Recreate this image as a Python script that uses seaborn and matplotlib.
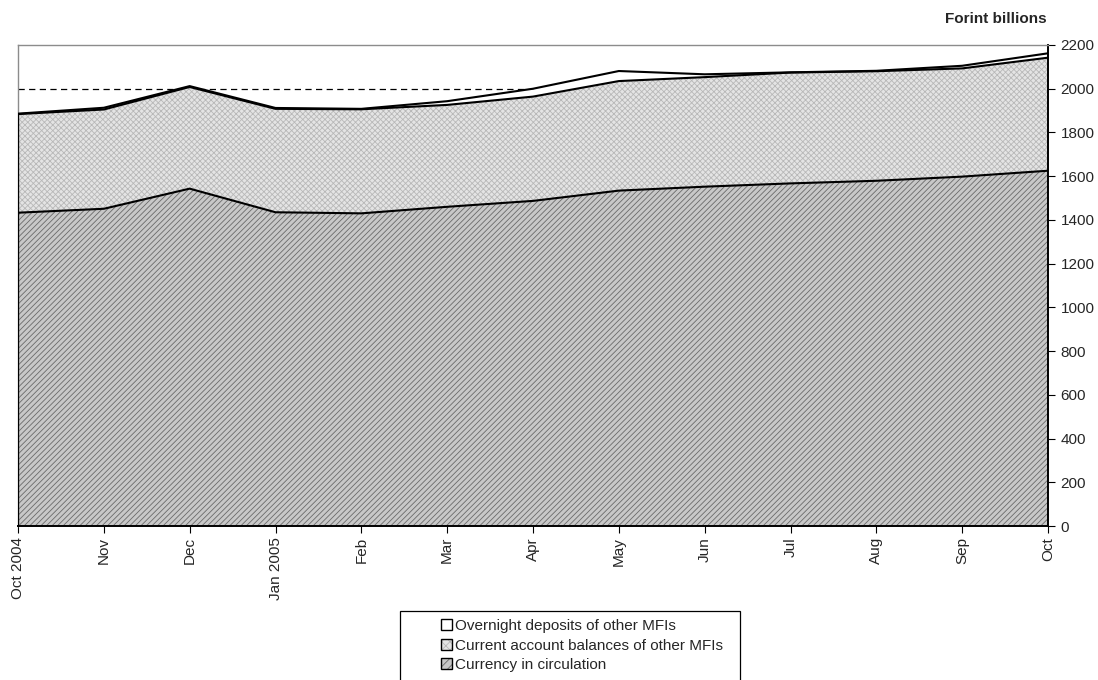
import numpy as np
import pandas as pd
import matplotlib
matplotlib.use("Agg")
import matplotlib.pyplot as plt
from matplotlib.patches import Patch, Rectangle
import seaborn as sns

# ---------------- data (Forint billions) ----------------
months = ["Oct 2004", "Nov", "Dec", "Jan 2005", "Feb", "Mar", "Apr",
          "May", "Jun", "Jul", "Aug", "Sep", "Oct"]
currency = [1433, 1451, 1543, 1435, 1430, 1460, 1487, 1534, 1552, 1567, 1579, 1598, 1625]
current_account = [451, 454, 465, 473, 476, 466, 477, 501, 501, 507, 501, 495, 517]
overnight = [2, 8, 4, 4, 2, 17, 36, 46, 13, 1, 2, 12, 20]
reference_level = 2000
y_ticks = list(range(0, 2201, 200))
labels = ["Overnight deposits of other MFIs",
          "Current account balances of other MFIs",
          "Currency in circulation"]

# ---------------- style ----------------
sns.set_style("white")
plt.rcParams["font.family"] = ["Liberation Sans", "DejaVu Sans"]
plt.rcParams["hatch.linewidth"] = 0.6
FS = 11

x = np.arange(len(months))
c = np.array(currency, dtype=float)
mid = c + np.array(current_account, dtype=float)
top = mid + np.array(overnight, dtype=float)

df = pd.DataFrame({"x": np.concatenate([x, x, x]),
                   "y": np.concatenate([c, mid, top]),
                   "series": ["cur"] * len(x) + ["mid"] * len(x) + ["top"] * len(x)})

fig = plt.figure(figsize=(10.98, 6.8), dpi=100)
ax = fig.add_axes([18 / 1098, 1 - 526 / 680, (1048 - 18) / 1098, (526 - 45) / 680])

# dashed reference line (behind the areas)
ax.axhline(reference_level, color="black", lw=0.9, dashes=(5, 3.5), zorder=0.5)

cur_face, cur_hatch = "#c8c8c8", "#6a6a6a"
ca_face, ca_hatch = "#e4e4e4", "#b8b8b8"

ax.fill_between(x, 0, c, facecolor=cur_face, edgecolor=cur_hatch, hatch="//////", lw=0, zorder=1)
ax.fill_between(x, c, mid, facecolor=ca_face, edgecolor=ca_hatch, hatch="xxxxxx", lw=0, zorder=1)
ax.fill_between(x, mid, top, facecolor="white", edgecolor="white", lw=0, zorder=1)

sns.lineplot(data=df, x="x", y="y", units="series", estimator=None, color="black",
             lw=1.5, ax=ax, zorder=3, legend=False)
ax.vlines(x[0], 0, top[0], color="black", lw=1.6, zorder=3)

ax.set_xlim(x[0], x[-1])
ax.set_ylim(0, 2200)
ax.set_xticks(x)
ax.set_xticklabels(months, rotation=90, ha="center", va="top", fontsize=FS)
ax.yaxis.tick_right()
ax.set_yticks(y_ticks)
ax.set_yticklabels([str(v) for v in y_ticks], fontsize=FS)
ax.tick_params(axis="both", direction="out", length=5, width=0.8, color="black", pad=3)
ax.tick_params(axis="x", bottom=True, pad=3)
ax.tick_params(axis="y", right=True, left=False, pad=4)
ax.set_xlabel("")
ax.set_ylabel("")

for side in ["left", "top"]:
    ax.spines[side].set_color("#8c8c8c")
    ax.spines[side].set_linewidth(1.0)
for side in ["right", "bottom"]:
    ax.spines[side].set_color("black")
    ax.spines[side].set_linewidth(1.4)
ax.spines["bottom"].set_zorder(4)

fig.text(1047 / 1098, 1 - 19 / 680, "Forint billions", ha="right", va="center",
         fontsize=FS, fontweight="bold")

# legend
h_over = (Patch(facecolor="white", edgecolor="black", lw=1.0),)
h_ca = (Patch(facecolor=ca_face, edgecolor=ca_hatch, hatch="xxxx", lw=0),
        Patch(facecolor="none", edgecolor="black", lw=1.0))
h_cur = (Patch(facecolor=cur_face, edgecolor=cur_hatch, hatch="////", lw=0),
         Patch(facecolor="none", edgecolor="black", lw=1.0))
fig.legend([h_over, h_ca, h_cur], labels, loc="upper left",
           bbox_to_anchor=(441 / 1098, 1 - 619 / 680), frameon=False,
           borderpad=0, borderaxespad=0, handlelength=0.7, handleheight=0.7,
           handletextpad=0.22, labelspacing=0.36, fontsize=FS)
fig.patches.append(Rectangle((400 / 1098, -0.05), 340 / 1098, (1 - 611 / 680) + 0.05,
                             transform=fig.transFigure, fill=False, edgecolor="black",
                             lw=0.9, figure=fig))

fig.savefig("out.png", dpi=100)
